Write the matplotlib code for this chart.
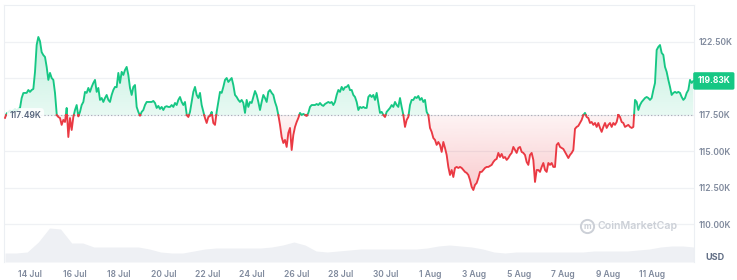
import numpy as np
import pandas as pd
import matplotlib
matplotlib.use("Agg")
import matplotlib.pyplot as plt
import matplotlib.dates as mdates
from matplotlib.colors import to_rgb
from matplotlib.lines import Line2D

plt.rcParams['font.family'] = ['Inter', 'DejaVu Sans']

# BTC price in thousands of USD, one sample every 108 minutes
start = pd.Timestamp("2025-07-12 21:00")
price = [
    117.30, 117.60, 117.70, 117.80, 117.70, 117.80, 117.90, 117.80, 117.90, 117.98,
    118.66, 119.00, 119.01, 119.01, 119.21, 119.08, 119.21, 119.28, 120.45, 122.30,
    122.84, 122.55, 121.80, 121.60, 121.47, 120.79, 119.90, 120.38, 120.03, 119.90,
    119.01, 117.50, 117.36, 117.29, 116.82, 117.16, 117.02, 117.98, 115.99, 117.29,
    116.47, 117.36, 117.84, 118.18, 117.40, 117.71, 118.18, 118.39, 119.08, 119.01,
    119.35, 119.08, 119.42, 119.69, 119.90, 119.08, 119.35, 118.53, 118.66, 118.39,
    118.66, 118.87, 118.53, 118.39, 118.87, 119.21, 119.42, 119.40, 120.38, 119.69,
    120.45, 120.24, 120.58, 120.79, 120.24, 119.35, 118.87, 119.42, 119.55, 118.05,
    117.71, 117.45, 117.71, 117.84, 118.18, 118.39, 118.39, 118.39, 118.39, 118.46,
    118.32, 117.98, 118.12, 117.91, 118.05, 117.84, 118.05, 118.10, 118.05, 118.05,
    118.18, 118.05, 118.32, 118.18, 118.53, 118.73, 118.39, 118.18, 118.39, 117.50,
    117.36, 117.71, 118.39, 119.08, 119.42, 118.87, 118.66, 119.01, 118.18, 117.71,
    117.29, 116.95, 117.36, 117.43, 117.71, 116.95, 116.82, 117.71, 118.39, 119.08,
    119.01, 119.42, 119.90, 120.03, 119.76, 119.90, 120.03, 119.55, 118.87, 118.73,
    118.53, 118.39, 118.53, 118.32, 117.64, 118.53, 118.05, 118.39, 118.32, 118.73,
    119.14, 118.87, 118.39, 117.84, 118.39, 118.87, 118.66, 118.39, 119.08, 119.21,
    119.01, 118.87, 118.39, 118.05, 117.50, 116.82, 115.99, 115.58, 115.79, 115.31,
    116.27, 116.61, 115.10, 116.13, 116.68, 117.02, 117.29, 117.64, 117.50, 117.57,
    117.50, 117.43, 117.64, 118.05, 118.18, 118.18, 118.18, 118.25, 118.18, 118.32,
    118.18, 118.12, 118.25, 118.32, 118.39, 118.32, 118.39, 118.18, 118.39, 118.87,
    119.21, 119.08, 119.42, 119.21, 119.40, 119.42, 119.55, 119.20, 119.21, 118.87,
    118.73, 118.39, 117.84, 118.05, 117.98, 118.05, 117.98, 117.98, 118.73, 118.87,
    118.73, 118.87, 118.53, 119.01, 118.32, 117.64, 117.71, 117.50, 117.36, 117.71,
    117.84, 117.98, 118.18, 118.05, 118.39, 118.18, 118.05, 118.66, 118.05, 117.50,
    116.68, 117.16, 117.36, 118.18, 118.53, 118.53, 118.73, 118.66, 118.80, 118.53,
    118.66, 118.39, 118.53, 117.71, 117.50, 116.61, 116.34, 115.92, 115.79, 115.45,
    115.65, 115.45, 114.97, 115.65, 115.24, 114.76, 113.94, 113.39, 113.73, 113.25,
    113.87, 113.94, 113.87, 113.94, 113.87, 113.73, 113.60, 113.53, 113.39, 113.05,
    112.57, 112.36, 112.71, 112.84, 113.18, 113.60, 113.60, 113.73, 113.87, 113.94,
    113.94, 114.01, 114.08, 114.28, 114.42, 114.49, 114.90, 114.62, 114.83, 114.55,
    114.62, 114.42, 114.55, 114.76, 114.90, 115.31, 115.10, 114.90, 115.24, 115.31,
    114.97, 114.90, 114.76, 114.28, 114.08, 114.76, 114.90, 114.42, 112.91, 113.73,
    113.73, 113.60, 113.94, 114.21, 113.73, 113.60, 114.21, 114.08, 114.21, 113.94,
    113.94, 115.45, 115.58, 115.31, 115.24, 115.17, 114.97, 114.76, 114.55, 114.76,
    114.90, 115.10, 116.55, 116.68, 116.75, 116.95, 117.16, 117.50, 117.64, 117.36,
    117.29, 116.95, 117.02, 116.82, 116.95, 116.68, 116.95, 116.61, 116.34, 116.68,
    116.95, 116.61, 116.82, 116.95, 116.68, 116.95, 116.82, 117.02, 117.50, 117.36,
    117.02, 116.95, 116.68, 116.75, 116.82, 116.68, 116.61, 116.68, 118.53, 118.39,
    117.84, 118.18, 118.39, 118.53, 118.66, 118.73, 118.66, 118.53, 118.66, 119.21,
    119.69, 121.95, 122.16, 122.29, 121.75, 121.61, 120.79, 120.45, 119.90, 119.42,
    118.87, 119.01, 119.08, 119.01, 119.08, 119.01, 118.73, 118.53, 118.66, 119.01,
    119.21, 119.90, 119.69, 119.83,
]
base_price = 117.49
last_price = 119.83

# 24h volume in billions of USD, one sample every 12 hours
volume = [
    27, 27, 30, 60, 102, 99, 57, 57, 45, 45, 45, 45, 45, 39, 30, 27,
    27, 33, 39, 42, 42, 42, 42, 42, 45, 51, 60, 51, 33, 30, 33, 36,
    39, 39, 39, 39, 39, 39, 42, 48, 51, 48, 45, 39, 30, 27, 30, 30,
    30, 30, 30, 30, 30, 33, 33, 33, 33, 36, 39, 45, 48, 48, 45,
]

date_ticks = pd.date_range("2025-07-14", "2025-08-11", freq="2D")
price_ticks = [110.0, 112.5, 115.0, 117.5, 120.0, 122.5]

GREEN = "#16c784"
RED = "#ea3943"
GRAY = "#808a9d"

t = pd.date_range(start, periods=len(price), freq="108min")
tv = pd.date_range(start, periods=len(volume), freq="12h")
x = mdates.date2num(t)
y = np.array(price)

# add crossing points so the line changes colour exactly at the baseline
xs, ys = [x[0]], [y[0]]
for i in range(1, len(y)):
    a, b = y[i - 1] - base_price, y[i] - base_price
    if a * b < 0:
        f = a / (a - b)
        xs.append(x[i - 1] + f * (x[i] - x[i - 1]))
        ys.append(base_price)
    xs.append(x[i])
    ys.append(y[i])
xs, ys = np.array(xs), np.array(ys)

fig = plt.figure(figsize=(7.37, 2.80), dpi=100)
ax = fig.add_axes([4 / 737, 18 / 280, 690 / 737, 257 / 280])

# volume in the background
axv = ax.twinx()
axv.fill_between(mdates.date2num(tv), volume, 0, color="#eef0f4", lw=0)
axv.set_ylim(0, 771)
axv.axis("off")
ax.set_zorder(axv.get_zorder() + 1)
ax.patch.set_visible(False)


def grad_fill(lo, hi, color, far, near, up):
    coll = ax.fill_between(xs, lo, hi, facecolor="none", edgecolor="none")
    path = coll.get_paths()[0]
    rgba = np.zeros((256, 1, 4))
    rgba[..., :3] = to_rgb(color)
    a = np.linspace(near, far, 256) if up else np.linspace(far, near, 256)
    rgba[..., 3] = a[:, None]
    y0, y1 = (base_price, ys.max()) if up else (ys.min(), base_price)
    im = ax.imshow(rgba, extent=[xs[0], xs[-1], y0, y1], aspect="auto",
                   origin="lower", zorder=1, interpolation="bilinear")
    im.set_clip_path(path, ax.transData)


grad_fill(base_price, np.maximum(ys, base_price), GREEN, 0.26, 0.10, True)
grad_fill(np.minimum(ys, base_price), base_price, RED, 0.26, 0.06, False)

ax.plot(xs, np.ma.masked_where(ys < base_price, ys), color=GREEN, lw=1.35, zorder=3,
        solid_joinstyle="round")
ax.plot(xs, np.ma.masked_where(ys > base_price, ys), color=RED, lw=1.35, zorder=3,
        solid_joinstyle="round")
ax.axhline(base_price, color="#a3a9b5", lw=0.8, ls=(0, (1, 2)), zorder=2)

# axes
ax.set_xlim(x[0] - 0.045, x[-1] + 0.03)
ax.set_ylim(107.43, 125.03)
ax.set_yticks(price_ticks)
# the 120.00K label sits under the current price tag
ax.set_yticklabels(["" if v == 120.0 else "%.2fK" % v for v in price_ticks])
ax.yaxis.tick_right()
ax.grid(axis="y", color="#eff1f4", lw=0.9)
ax.set_axisbelow(True)
ax.set_xticks(mdates.date2num(date_ticks))
ax.set_xticklabels([d.strftime("%-d %b") for d in date_ticks])
ax.tick_params(length=0, labelsize=6.1, labelcolor=GRAY)
ax.tick_params(axis="x", pad=6)
ax.tick_params(axis="y", pad=3)
for lab in ax.get_xticklabels() + ax.get_yticklabels():
    lab.set_fontweight("semibold")
for s in ["top", "left", "right"]:
    ax.spines[s].set_color("#eceff3")
    ax.spines[s].set_linewidth(0.8)
ax.spines["bottom"].set_visible(False)

# price tags
ax.text(0.008, base_price, "117.49K", transform=ax.get_yaxis_transform(),
        ha="left", va="center", fontsize=6.1, fontweight="semibold", color="#58667e",
        zorder=5, bbox=dict(boxstyle="round,pad=0.3,rounding_size=0.4",
                            fc="white", ec="none", alpha=0.85))
ax.text(1.005, last_price, "%.2fK" % last_price, transform=ax.get_yaxis_transform(),
        ha="left", va="center", fontsize=6.1, fontweight="bold", color="white",
        zorder=5, clip_on=False,
        bbox=dict(boxstyle="round,pad=0.5,rounding_size=0.2", fc=GREEN, ec="none"))
fig.text(715 / 737, 1 - 258 / 280, "USD", ha="center", va="center", fontsize=6.5,
         fontweight="bold", color="#616e85")

# watermark
fig.add_artist(Line2D([587 / 737], [1 - 226 / 280], marker="o", markersize=9.5,
                      mfc="none", mec="#ccd0d7", mew=1.4, transform=fig.transFigure))
fig.text(587 / 737, 1 - 226.5 / 280, "m", ha="center", va="center", fontsize=6,
         fontweight="bold", color="#ccd0d7")
fig.text(598 / 737, 1 - 226 / 280, "CoinMarketCap", ha="left", va="center",
         fontsize=7.6, fontweight="semibold", color="#ccd0d7")

fig.savefig("out.png", dpi=100)
